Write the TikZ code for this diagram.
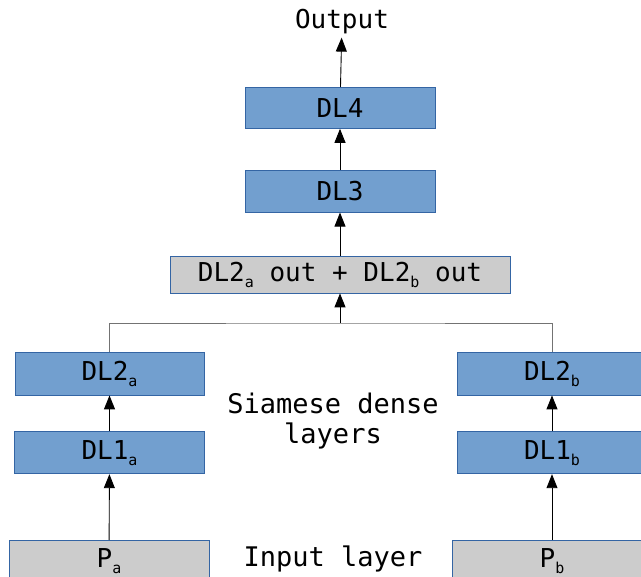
\documentclass[tikz,border=0pt]{standalone}
\usepackage{fontspec}
\setmonofont{DejaVu Sans Mono}
\usepackage{tikz}
\usetikzlibrary{arrows.meta, positioning}

\definecolor{layerblue}{HTML}{729FCF}
\definecolor{layeredge}{HTML}{3465A4}
\definecolor{inputgray}{HTML}{CCCCCC}

% small lowered index after a layer name
\newcommand{\lsub}[1]{\raisebox{-6pt}{\fontsize{15}{15}\selectfont #1}}

\begin{document}
\begin{tikzpicture}[
    x=1pt, y=-1pt,
    font=\ttfamily\fontsize{26}{30}\selectfont,
    box/.style={rectangle, draw=layeredge, line width=0.8pt, fill=layerblue, minimum width=190pt, minimum height=42pt, inner sep=0pt, text centered},
    inbox/.style={box, fill=inputgray},
    caption/.style={align=center, inner sep=0pt, font=\ttfamily\fontsize{27}{30}\selectfont},
    arrow/.style={-{Triangle[length=14pt, width=11pt]}, draw=black, line width=0.9pt},
    line/.style={draw=black!55, line width=0.9pt}
]
\clip (0,0) rectangle (641,577);

% Nodes
\node (sum) [inbox, minimum width=340pt, minimum height=37pt] at (340,274.5) {DL2\lsub{a} out + DL2\lsub{b} out};
\node (dl3) [box, above=43pt of sum.north, anchor=south] {DL3};
\node (dl4) [box, above=41pt of dl3.north, anchor=south, minimum height=41pt] {DL4};
\node (output) [anchor=base, inner sep=3pt] at (342,29) {Output};

\node (dl2a) [box, minimum width=189pt, minimum height=43pt] at (109.5,373.5) {DL2\lsub{a}};
\node (dl1a) [box, below=36pt of dl2a.south, anchor=north] {DL1\lsub{a}};
\node (pa) [inbox, minimum width=200pt, minimum height=60pt, anchor=north] at (109,540) {\raisebox{25pt}{P\lsub{a}}};

\node (dl2b) [box, minimum height=43pt] at (552,373.5) {DL2\lsub{b}};
\node (dl1b) [box, below=36pt of dl2b.south, anchor=north] {DL1\lsub{b}};
\node (pb) [inbox, minimum width=200pt, minimum height=60pt, anchor=north] at (552,540) {\raisebox{25pt}{P\lsub{b}}};

\node (siamese) [caption] at (333,421) {Siamese dense\\layers};
\node (input) [caption, anchor=base] at (333,567) {Input layer};

\coordinate (join) at (340,323);

% Paths
\draw [arrow] (pa) -- (dl1a);
\draw [arrow] (dl1a) -- (dl2a);
\draw [arrow] (pb) -- (dl1b);
\draw [arrow] (dl1b) -- (dl2b);
\draw [line] (dl2a.north) |- (join) -| (dl2b.north);
\draw [arrow] (join) -- (sum);
\draw [arrow] (sum) -- (dl3);
\draw [arrow] (dl3) -- (dl4);
\draw [arrow] (dl4) -- (output);

\end{tikzpicture}
\end{document}
